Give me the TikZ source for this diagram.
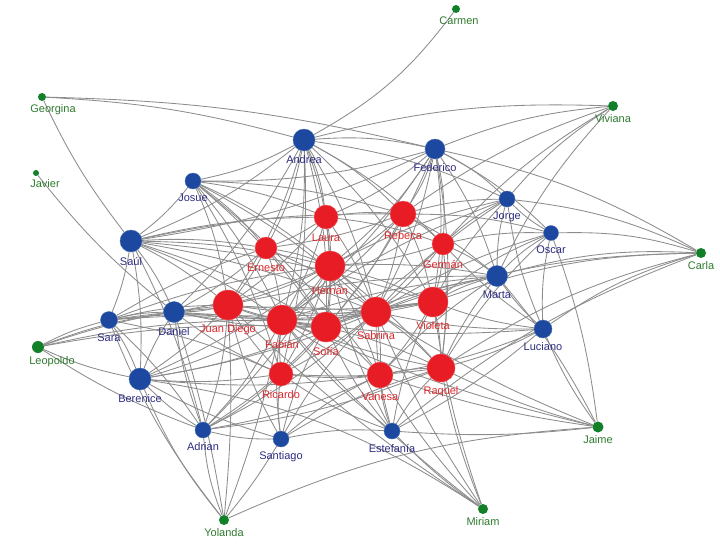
\documentclass[tikz,border=0pt]{standalone}
\usepackage{fontspec}
\setmainfont{Liberation Sans}
\usetikzlibrary{backgrounds}
\definecolor{rednode}{RGB}{232,28,36}
\definecolor{redtext}{RGB}{222,40,44}
\definecolor{bluenode}{RGB}{28,72,160}
\definecolor{bluetext}{RGB}{44,44,130}
\definecolor{greennode}{RGB}{18,128,40}
\definecolor{greentext}{RGB}{46,122,46}
\definecolor{edgegray}{RGB}{140,140,140}
\tikzset{
  vtx/.style={circle,inner sep=0pt,minimum size=#1},
  rv/.style={vtx=#1,fill=rednode,draw=rednode!70!white,line width=0.4pt},
  bv/.style={vtx=#1,fill=bluenode,draw=bluenode!80!white,line width=0.4pt},
  gv/.style={vtx=8pt,fill=greennode},
  lbase/.style={inner sep=1pt,font=\fontsize{11}{12}\selectfont},
  rl/.style={lbase,text=redtext,yshift=-3.5pt},
  bl/.style={lbase,text=bluetext,yshift=-3.5pt},
  gl/.style={lbase,text=greentext,yshift=-2pt},
  edge/.style={draw=edgegray,line width=0.85pt},
}
\begin{document}
\begin{tikzpicture}[x=1pt,y=-1pt]
\useasboundingbox (0,0) rectangle (720,549);
% green nodes
\node[gv,label={[gl,xshift=3pt]below:Carmen}] (car) at (456,9) {};
\node[gv,label={[gl,xshift=11pt]below:Georgina}] (geo) at (42,97) {};
\node[gv,vtx=6pt,label={[gl,xshift=9pt]below:Javier}] (jav) at (36,173) {};
\node[gv,vtx=10pt,label={[gl]below:Viviana}] (viv) at (613,106) {};
\node[gv,vtx=10pt,label={[gl]below:Carla}] (cla) at (701,253) {};
\node[gv,vtx=12pt,label={[gl,xshift=14pt]below:Leopoldo}] (leo) at (38,347) {};
\node[gv,vtx=11pt,label={[gl]below:Jaime}] (jai) at (598,427) {};
\node[gv,vtx=10pt,label={[gl]below:Miriam}] (mir) at (483,509) {};
\node[gv,vtx=10pt,label={[gl]below:Yolanda}] (yol) at (224,520) {};
% blue nodes
\node[bv=22pt,label={[bl]below:Andrea}] (and) at (304,140) {};
\node[bv=20pt,label={[bl]below:Federico}] (fed) at (435,149) {};
\node[bv=16pt,label={[bl]below:Josue}] (jos) at (193,181) {};
\node[bv=22pt,label={[bl]below:Saúl}] (sau) at (131,241) {};
\node[bv=16pt,label={[bl]below:Jorge}] (jor) at (507,199) {};
\node[bv=15pt,label={[bl]below:Oscar}] (osc) at (551,233) {};
\node[bv=21pt,label={[bl]below:Marta}] (mar) at (497,276) {};
\node[bv=18pt,label={[bl]below:Luciano}] (luc) at (543,329) {};
\node[bv=17pt,label={[bl]below:Sara}] (sar) at (109,320) {};
\node[bv=21pt,label={[bl]below:Daniel}] (dan) at (174,312) {};
\node[bv=22pt,label={[bl]below:Berenice}] (ber) at (140,379) {};
\node[bv=16pt,label={[bl]below:Adrian}] (adr) at (203,430) {};
\node[bv=16pt,label={[bl]below:Santiago}] (san) at (281,439) {};
\node[bv=16pt,label={[bl]below:Estefanía}] (est) at (392,431) {};
% red nodes
\node[rv=24pt,label={[rl]below:Laura}] (lau) at (326,217) {};
\node[rv=26pt,label={[rl]below:Rebeca}] (reb) at (403,214) {};
\node[rv=22pt,label={[rl]below:Germán}] (ger) at (443,244) {};
\node[rv=22pt,label={[rl]below:Ernesto}] (ern) at (266,248) {};
\node[rv=30pt,label={[rl]below:Hernán}] (her) at (330,266) {};
\node[rv=30pt,label={[rl]below:Juan Diego}] (jua) at (228,305) {};
\node[rv=30pt,label={[rl]below:Fabián}] (fab) at (282,320) {};
\node[rv=30pt,label={[rl]below:Sofía}] (sof) at (326,327) {};
\node[rv=30pt,label={[rl]below:Sabrina}] (sab) at (376,312) {};
\node[rv=30pt,label={[rl]below:Violeta}] (vio) at (433,302) {};
\node[rv=24pt,label={[rl]below:Ricardo}] (ric) at (281,374) {};
\node[rv=26pt,label={[rl]below:Vanesa}] (van) at (380,375) {};
\node[rv=28pt,label={[rl]below:Raquel}] (raq) at (441,368) {};
\begin{pgfonlayer}{background}
% peripheral
\draw[edge] (car) to[bend left=12] (and);
\foreach \b in {and,fed} \draw[edge] (geo) to[bend left=6] (\b);
\draw[edge] (geo) to[bend right=6] (sau);
\draw[edge] (jav) to[bend right=6] (dan);
\foreach \b in {fed,and,jor,reb,mar,ger} \draw[edge] (viv) to[bend right=8] (\b);
\foreach \b in {fed,jor,osc,mar,luc,vio,raq,sab,est} \draw[edge] (cla) to[bend right=9] (\b);
\foreach \b in {sar,dan,jua,fab,sof} \draw[edge] (leo) to[bend left=6] (\b);
\foreach \b in {ber,adr} \draw[edge] (leo) to[bend right=6] (\b);
\foreach \b in {raq,van,est,fab,sab} \draw[edge] (jai) to[bend left=5] (\b);
\foreach \b in {osc,mar} \draw[edge] (jai) to[bend right=6] (\b);
\draw[edge] (jai) to[bend left=6] (luc);
\draw[edge] (jai) to[bend right=10] (yol);
\foreach \b in {est,raq,van,sab,fab,jua,vio} \draw[edge] (mir) to[bend left=5] (\b);
\draw[edge] (mir) to[bend right=12] (ber);
\foreach \b in {ber,adr,sar} \draw[edge] (yol) to[bend left=8] (\b);
\foreach \b in {san,dan,jua,fab} \draw[edge] (yol) to[bend right=4] (\b);
% blue
\foreach \b in {fed,jos,sau,lau,reb,ern,her,jua,fab,sof,sab,vio,ger,jor,dan,ric}
  \draw[edge] (and) to[bend left=8] (\b);
\foreach \b in {jor,reb,ger,lau,her,sab,vio,sof,osc,mar,jos,sau,fab,raq}
  \draw[edge] (fed) to[bend left=8] (\b);
\foreach \b in {sau,lau,ern,her,jua,fab,sof,sab,reb,ric,van}
  \draw[edge] (jos) to[bend left=7] (\b);
\foreach \b in {sar,dan,ber,ern,her,jua,fab,sof,lau,reb,sab,vio,adr}
  \draw[edge] (sau) to[bend left=6] (\b);
\foreach \b in {reb,ger,osc,mar,sab,vio,her,luc,fab}
  \draw[edge] (jor) to[bend right=7] (\b);
\foreach \b in {ger,mar,luc,vio,sab,raq,reb}
  \draw[edge] (osc) to[bend right=7] (\b);
\foreach \b in {vio,ger,sab,luc,raq,her,van,sof,reb,fab,jua}
  \draw[edge] (mar) to[bend right=6] (\b);
\foreach \b in {vio,raq,sab,van,est,ger,fab}
  \draw[edge] (luc) to[bend left=6] (\b);
\foreach \b in {dan,ber,jua,fab,sof,her,adr,ern,ric,sab}
  \draw[edge] (sar) to[bend left=6] (\b);
\foreach \b in {ber,jua,fab,sof,her,ern,adr,ric,sab,vio}
  \draw[edge] (dan) to[bend right=6] (\b);
\foreach \b in {jua,fab,sof,ric,adr,her,van,sab,san}
  \draw[edge] (ber) to[bend right=6] (\b);
\foreach \b in {ric,fab,san,jua,van,sof,sab,her,raq}
  \draw[edge] (adr) to[bend right=7] (\b);
\foreach \b in {ric,fab,sof,van,jua,sab,est,raq}
  \draw[edge] (san) to[bend left=7] (\b);
\foreach \b in {van,raq,sof,sab,fab,ric,vio,her}
  \draw[edge] (est) to[bend left=7] (\b);
% red
\foreach \b in {her,reb,ern,fab,sof,sab,jua,ger}
  \draw[edge] (lau) to[bend left=6] (\b);
\foreach \b in {ger,her,sab,vio,sof,fab,ern}
  \draw[edge] (reb) to[bend left=6] (\b);
\foreach \b in {vio,sab,her,raq,sof}
  \draw[edge] (ger) to[bend left=6] (\b);
\foreach \b in {her,jua,fab,sof,sab}
  \draw[edge] (ern) to[bend left=6] (\b);
\foreach \b in {jua,fab,sof,sab,vio,ric,van,raq}
  \draw[edge] (her) to[bend left=5] (\b);
\foreach \b in {fab,sof,sab,ric,vio}
  \draw[edge] (jua) to[bend right=5] (\b);
\foreach \b in {sof,sab,vio,ric,van,raq}
  \draw[edge] (fab) to[bend right=5] (\b);
\foreach \b in {sab,vio,ric,van,raq}
  \draw[edge] (sof) to[bend left=5] (\b);
\foreach \b in {vio,van,raq,ric}
  \draw[edge] (sab) to[bend left=5] (\b);
\foreach \b in {raq,van}
  \draw[edge] (vio) to[bend left=5] (\b);
\foreach \b in {van,raq}
  \draw[edge] (ric) to[bend right=5] (\b);
\draw[edge] (van) to[bend left=5] (raq);
\end{pgfonlayer}
\end{tikzpicture}
\end{document}
